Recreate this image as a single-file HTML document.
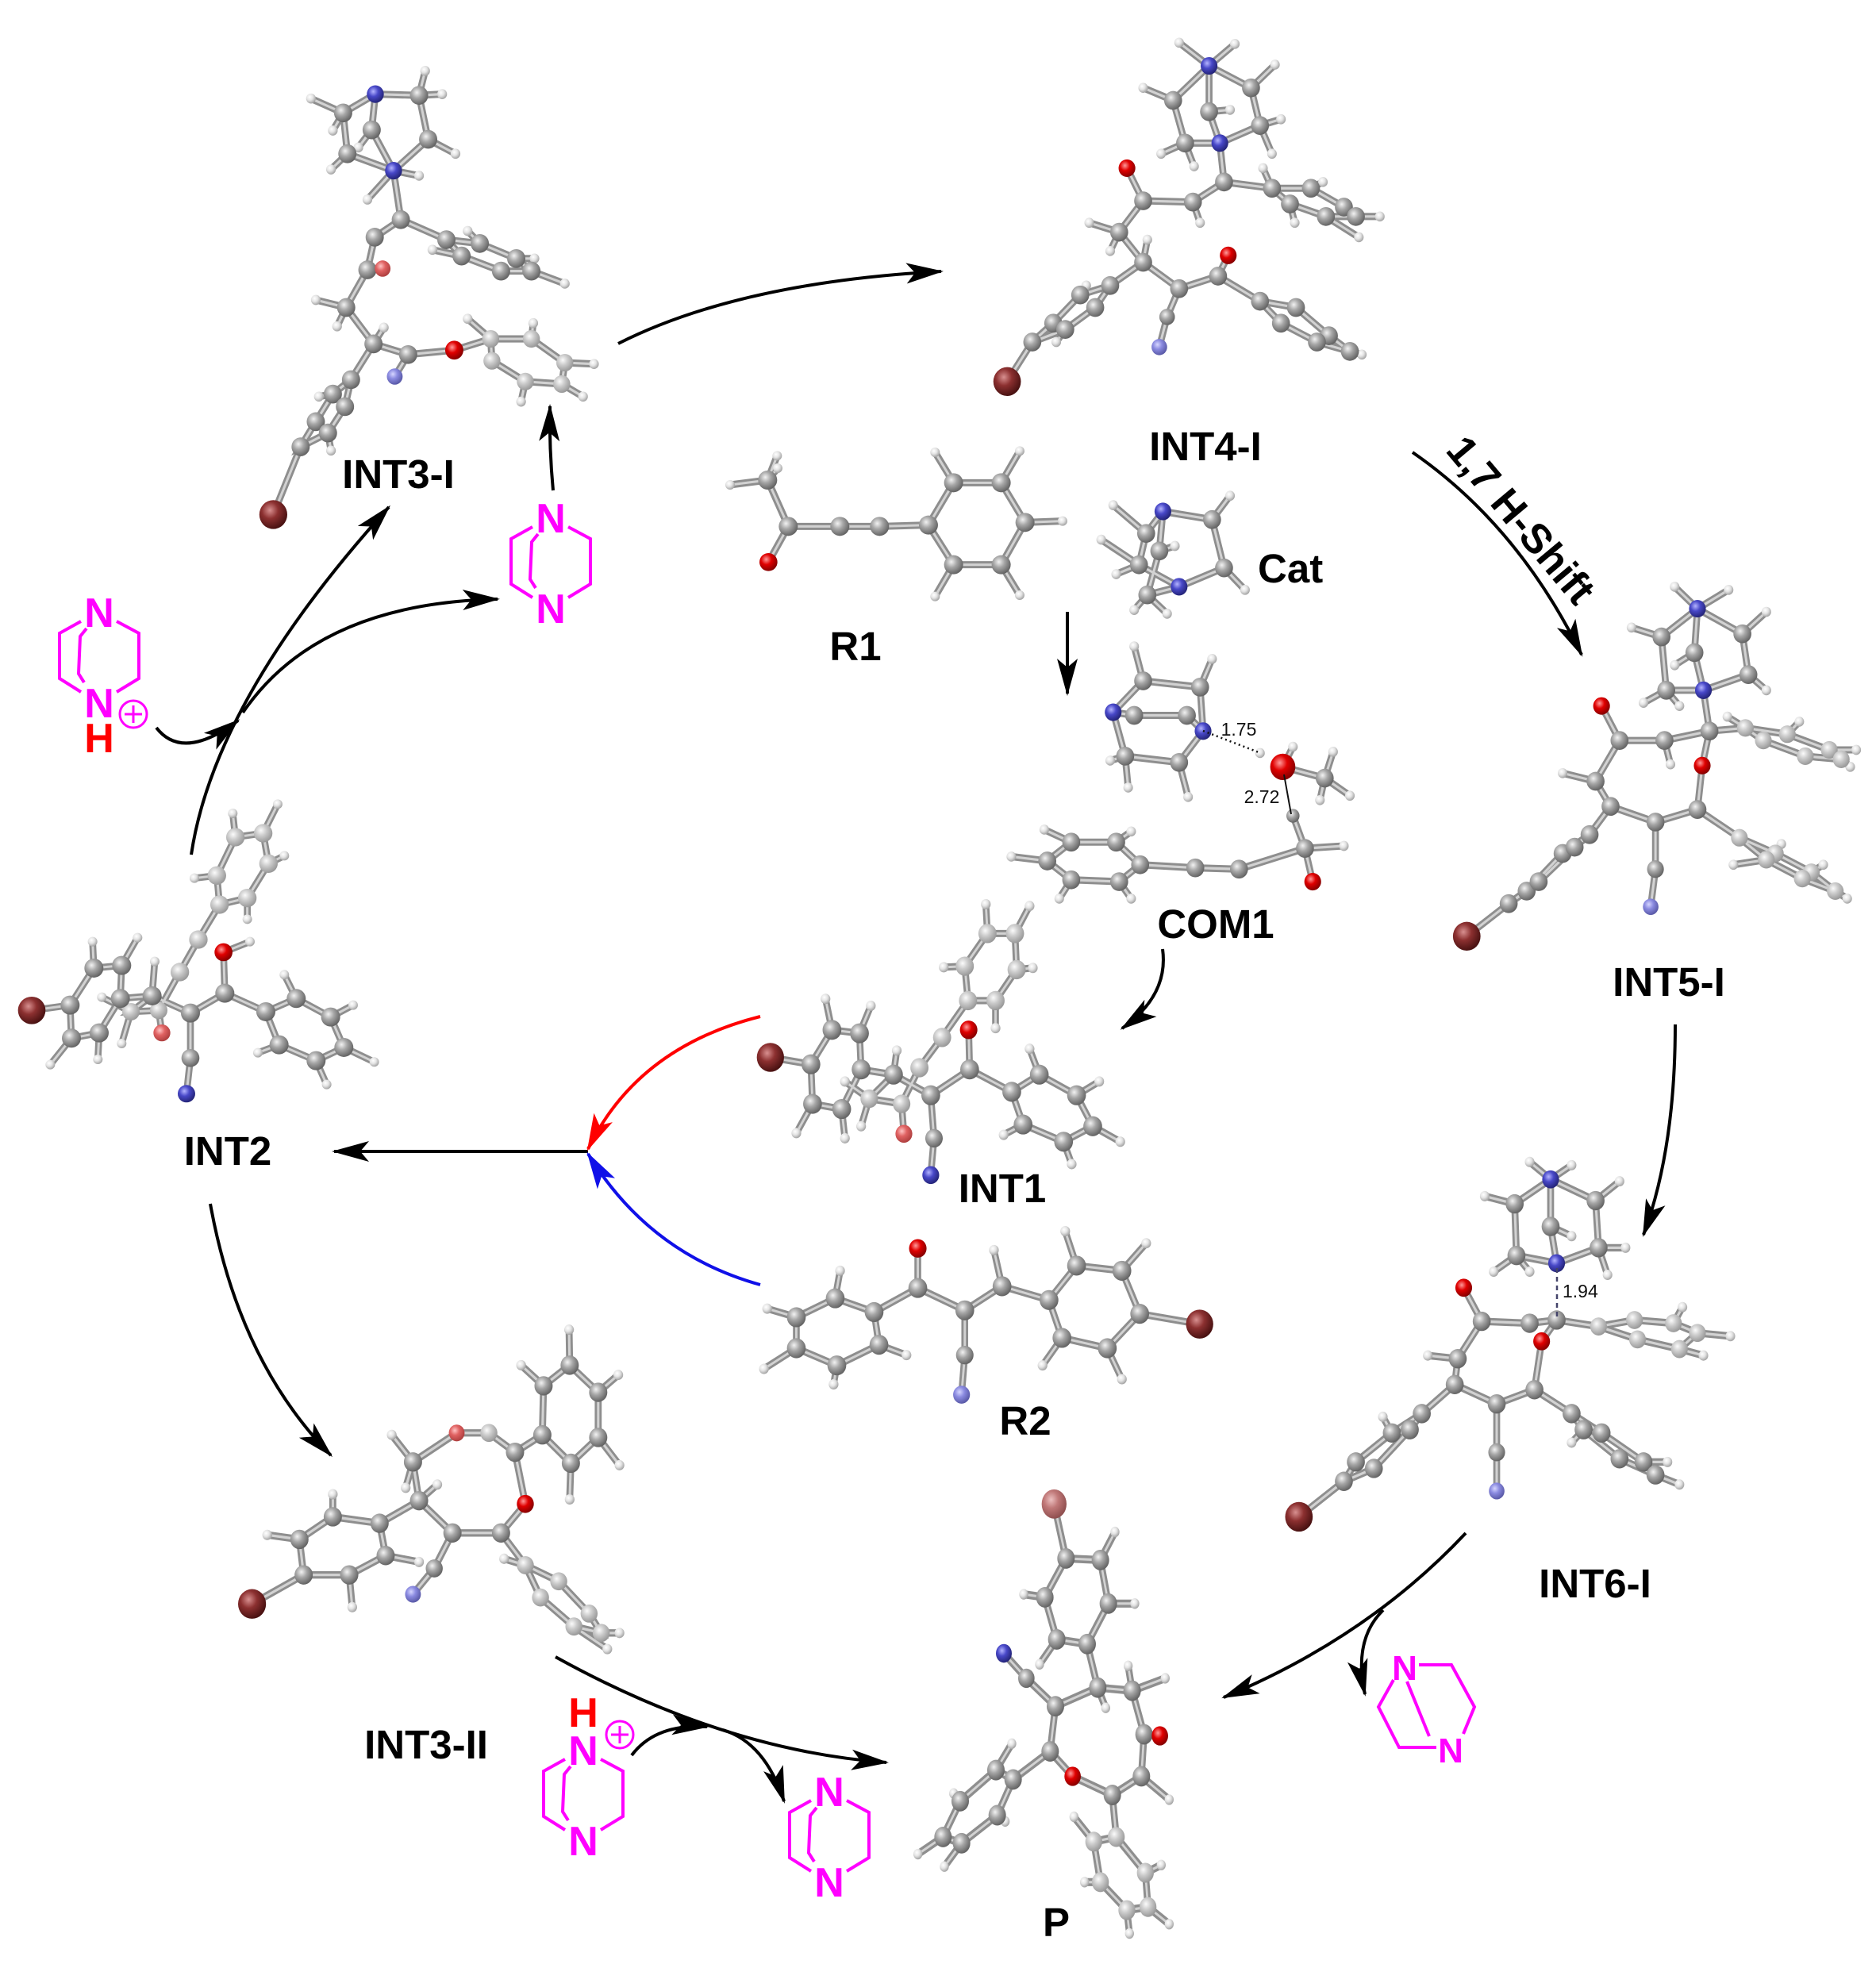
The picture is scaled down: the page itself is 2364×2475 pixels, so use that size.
<!DOCTYPE html>
<html><head><meta charset="utf-8">
<style>
html,body{margin:0;padding:0;background:#fff}
svg{display:block}
text{font-family:"Liberation Sans",Arial,sans-serif}
.lb{font-weight:bold;font-size:51px;fill:#000}
.dz{font-weight:bold;font-size:52px;fill:#f0f}
.hr{font-weight:bold;font-size:52px;fill:#f00}
.sm{font-size:23px;fill:#111}
</style></head><body>
<svg width="2364" height="2475" viewBox="0 0 2364 2475" xmlns="http://www.w3.org/2000/svg">
<defs>
<radialGradient id="gC" cx="0.38" cy="0.35" r="0.65"><stop offset="0" stop-color="#f2f2f2"/><stop offset="0.45" stop-color="#a6a6a6"/><stop offset="1" stop-color="#656565"/></radialGradient>
<radialGradient id="gL" cx="0.38" cy="0.35" r="0.65"><stop offset="0" stop-color="#fbfbfb"/><stop offset="0.45" stop-color="#cbcbcb"/><stop offset="1" stop-color="#9a9a9a"/></radialGradient>
<radialGradient id="gH" cx="0.38" cy="0.35" r="0.65"><stop offset="0" stop-color="#ffffff"/><stop offset="0.5" stop-color="#e4e4e4"/><stop offset="1" stop-color="#a5a5a5"/></radialGradient>
<radialGradient id="gO" cx="0.38" cy="0.35" r="0.65"><stop offset="0" stop-color="#ff9a9a"/><stop offset="0.45" stop-color="#e00000"/><stop offset="1" stop-color="#880000"/></radialGradient>
<radialGradient id="gOf" cx="0.38" cy="0.35" r="0.65"><stop offset="0" stop-color="#ffc4c4"/><stop offset="0.45" stop-color="#e06262"/><stop offset="1" stop-color="#b04040"/></radialGradient>
<radialGradient id="gN" cx="0.38" cy="0.35" r="0.65"><stop offset="0" stop-color="#b4b4ff"/><stop offset="0.45" stop-color="#4848c8"/><stop offset="1" stop-color="#25257a"/></radialGradient>
<radialGradient id="gNf" cx="0.38" cy="0.35" r="0.65"><stop offset="0" stop-color="#d6d6ff"/><stop offset="0.45" stop-color="#8a8ae0"/><stop offset="1" stop-color="#5a5aa8"/></radialGradient>
<radialGradient id="gBr" cx="0.38" cy="0.35" r="0.65"><stop offset="0" stop-color="#d89090"/><stop offset="0.45" stop-color="#8c3030"/><stop offset="1" stop-color="#4a1212"/></radialGradient>
<radialGradient id="gBrf" cx="0.38" cy="0.35" r="0.65"><stop offset="0" stop-color="#ecc0c0"/><stop offset="0.45" stop-color="#c07878"/><stop offset="1" stop-color="#905050"/></radialGradient>
<marker id="ak" markerUnits="userSpaceOnUse" viewBox="-50 -20 56 40" markerWidth="56" markerHeight="40" refX="0" refY="0" orient="auto"><path d="M3,0 L-44,-13 L-33,0 L-44,13 Z" fill="#000"/></marker>
<marker id="ar" markerUnits="userSpaceOnUse" viewBox="-50 -20 56 40" markerWidth="56" markerHeight="40" refX="0" refY="0" orient="auto"><path d="M3,0 L-44,-13 L-33,0 L-44,13 Z" fill="#f00"/></marker>
<marker id="ab" markerUnits="userSpaceOnUse" viewBox="-50 -20 56 40" markerWidth="56" markerHeight="40" refX="0" refY="0" orient="auto"><path d="M3,0 L-44,-13 L-33,0 L-44,13 Z" fill="#1010e8"/></marker>
<g id="dabco" fill="none" stroke="#f0f" stroke-width="4">
<path d="M-23,12 L-50,27 L-50,84 L-23,101 M22,12 L50,27 L50,84 L22,101 M-16,21 L-24,31 L-26,78 L-19,89"/>
</g>
</defs>
<rect width="2364" height="2475" fill="#fff"/>

<!-- ===== INT3-I ===== -->
<g transform="matrix(0.7653 0 0 0.7908 0 0)">
<g fill="none" stroke="#8e8e8e" stroke-width="11.5" stroke-linecap="round"><path id="b1" d="M618,150 L565,180 L572,245 L648,272 M618,150 L612,207 L648,272 M618,150 L690,152 L705,222 L648,272 M565,180 L512,157 M565,180 L548,208 M572,245 L545,270 M612,207 L590,235 M690,152 L728,150 M690,152 L700,113 M705,222 L750,245 M648,272 L605,318 M648,272 L690,280 M648,272 L660,350 L617,378 L605,430 L570,490 L615,548 L672,565 L748,558 L808,540 M605,430 L630,428 M570,490 L520,478 M570,490 L555,520 M615,548 L632,522 M672,565 L650,600 M808,540 L875,540 L930,578 L925,612 L865,608 L810,575 Z M875,540 L878,515 M930,578 L978,580 M925,612 L960,632 M865,608 L858,640 M808,540 L770,508 M660,350 L735,382 L790,388 L850,412 L875,432 L825,432 L760,408 L735,382 M760,408 L712,398 M790,388 L770,368 M875,432 L930,452 M850,412 L880,412 M615,548 L578,605 L548,628 L520,672 L495,712 L540,690 L568,648 L578,605 M540,690 L545,718 M548,628 L525,632 M495,712 L450,820"/></g>
<use href="#b1" fill="none" stroke="#d2d2d2" stroke-width="4" stroke-linecap="round"/>
<g fill="url(#gH)"><circle cx="512" cy="157" r="8"/><circle cx="548" cy="208" r="8"/><circle cx="545" cy="270" r="8"/><circle cx="590" cy="235" r="8"/><circle cx="728" cy="150" r="8"/><circle cx="700" cy="113" r="8"/><circle cx="750" cy="245" r="8"/><circle cx="605" cy="318" r="8"/><circle cx="690" cy="280" r="8"/><circle cx="520" cy="478" r="8"/><circle cx="555" cy="520" r="8"/><circle cx="632" cy="522" r="8"/><circle cx="878" cy="515" r="8"/><circle cx="978" cy="580" r="8"/><circle cx="960" cy="632" r="8"/><circle cx="858" cy="640" r="8"/><circle cx="770" cy="508" r="8"/><circle cx="712" cy="398" r="8"/><circle cx="770" cy="368" r="8"/><circle cx="930" cy="452" r="8"/><circle cx="880" cy="412" r="8"/><circle cx="545" cy="718" r="8"/><circle cx="525" cy="632" r="8"/></g>
<g fill="url(#gC)"><circle cx="565" cy="180" r="15"/><circle cx="612" cy="207" r="15"/><circle cx="690" cy="152" r="15"/><circle cx="572" cy="245" r="15"/><circle cx="705" cy="222" r="15"/><circle cx="660" cy="350" r="15"/><circle cx="617" cy="378" r="15"/><circle cx="605" cy="430" r="15"/><circle cx="570" cy="490" r="15"/><circle cx="615" cy="548" r="15"/><circle cx="672" cy="565" r="15"/><circle cx="735" cy="382" r="15"/><circle cx="790" cy="388" r="15"/><circle cx="850" cy="412" r="15"/><circle cx="875" cy="432" r="15"/><circle cx="825" cy="432" r="15"/><circle cx="760" cy="408" r="15"/><circle cx="578" cy="605" r="15"/><circle cx="548" cy="628" r="15"/><circle cx="520" cy="672" r="15"/><circle cx="495" cy="712" r="15"/><circle cx="540" cy="690" r="15"/><circle cx="568" cy="648" r="15"/></g>
<g fill="url(#gL)"><circle cx="808" cy="540" r="14"/><circle cx="875" cy="540" r="14"/><circle cx="930" cy="578" r="14"/><circle cx="925" cy="612" r="14"/><circle cx="865" cy="608" r="14"/><circle cx="810" cy="575" r="14"/></g>
<circle cx="618" cy="150" r="14" fill="url(#gN)"/><circle cx="648" cy="272" r="14" fill="url(#gN)"/>
<circle cx="748" cy="558" r="15" fill="url(#gO)"/><circle cx="630" cy="428" r="13" fill="url(#gOf)"/>
<circle cx="650" cy="600" r="13" fill="url(#gNf)"/>
<circle cx="450" cy="820" r="23" fill="url(#gBr)"/>
</g>

<!-- ===== INT4-I ===== -->
<g transform="matrix(0.7551 0 0 0.7908 1180 0)">
<g fill="none" stroke="#8e8e8e" stroke-width="11.5" stroke-linecap="round"><path id="b2" d="M455,105 L395,160 L415,228 L473,228 M455,105 L525,140 L540,200 L473,228 M455,105 L455,178 L473,228 M455,105 L405,68 M455,105 L498,70 M395,160 L345,140 M525,140 L565,103 M455,178 L490,175 M415,228 L375,245 M415,228 L430,265 M540,200 L575,190 M540,200 L560,245 M473,228 L480,290 L428,322 L345,320 L318,268 M428,322 L440,355 M345,320 L305,370 L345,418 L405,460 L470,440 L487,407 M305,370 L255,355 M305,370 L290,400 M345,418 L352,382 M405,460 L385,505 L372,553 M470,440 L540,480 L600,490 L655,535 L690,560 L635,545 L575,515 L540,480 M690,560 L710,565 M480,290 L560,300 L625,300 L680,330 L700,345 L650,345 L590,325 L560,300 M560,300 L545,268 M625,300 L645,290 M700,345 L740,345 M650,345 L705,378 M590,325 L598,355 M345,418 L290,455 L240,470 L195,515 L160,545 L215,525 L265,490 L290,455 M160,545 L118,608 M240,470 L250,455 M215,525 L200,545"/></g>
<use href="#b2" fill="none" stroke="#d2d2d2" stroke-width="4" stroke-linecap="round"/>
<g fill="url(#gH)"><circle cx="405" cy="68" r="8"/><circle cx="498" cy="70" r="8"/><circle cx="345" cy="140" r="8"/><circle cx="565" cy="103" r="8"/><circle cx="490" cy="175" r="8"/><circle cx="375" cy="245" r="8"/><circle cx="430" cy="265" r="8"/><circle cx="575" cy="190" r="8"/><circle cx="560" cy="245" r="8"/><circle cx="440" cy="355" r="8"/><circle cx="255" cy="355" r="8"/><circle cx="290" cy="400" r="8"/><circle cx="352" cy="382" r="8"/><circle cx="710" cy="565" r="8"/><circle cx="545" cy="268" r="8"/><circle cx="645" cy="290" r="8"/><circle cx="740" cy="345" r="8"/><circle cx="705" cy="378" r="8"/><circle cx="598" cy="355" r="8"/><circle cx="250" cy="455" r="8"/><circle cx="200" cy="545" r="8"/></g>
<g fill="url(#gC)"><circle cx="395" cy="160" r="15"/><circle cx="525" cy="140" r="15"/><circle cx="455" cy="178" r="15"/><circle cx="415" cy="228" r="15"/><circle cx="540" cy="200" r="15"/><circle cx="480" cy="290" r="15"/><circle cx="428" cy="322" r="15"/><circle cx="345" cy="320" r="15"/><circle cx="305" cy="370" r="15"/><circle cx="345" cy="418" r="15"/><circle cx="405" cy="460" r="15"/><circle cx="470" cy="440" r="15"/><circle cx="385" cy="505" r="13"/><circle cx="540" cy="480" r="15"/><circle cx="600" cy="490" r="15"/><circle cx="655" cy="535" r="15"/><circle cx="690" cy="560" r="15"/><circle cx="635" cy="545" r="15"/><circle cx="575" cy="515" r="15"/><circle cx="560" cy="300" r="15"/><circle cx="625" cy="300" r="15"/><circle cx="680" cy="330" r="15"/><circle cx="700" cy="345" r="15"/><circle cx="650" cy="345" r="15"/><circle cx="590" cy="325" r="15"/><circle cx="290" cy="455" r="15"/><circle cx="240" cy="470" r="15"/><circle cx="195" cy="515" r="15"/><circle cx="160" cy="545" r="15"/><circle cx="215" cy="525" r="15"/><circle cx="265" cy="490" r="15"/></g>
<circle cx="455" cy="105" r="14" fill="url(#gN)"/><circle cx="473" cy="228" r="14" fill="url(#gN)"/>
<circle cx="318" cy="268" r="14" fill="url(#gO)"/><circle cx="487" cy="407" r="14" fill="url(#gO)"/>
<circle cx="372" cy="553" r="13" fill="url(#gNf)"/>
<circle cx="118" cy="608" r="23" fill="url(#gBr)"/>
</g>

<!-- ===== R1 ===== -->
<g transform="matrix(0.3333 0 0 0.3333 880 540)">
<g fill="none" stroke="#8e8e8e" stroke-width="27" stroke-linecap="round"><path id="b3" d="M262,195 L340,370 L535,370 L685,370 L870,365 M340,370 L265,505 M262,195 L120,213 M262,195 L298,103 M262,195 L300,150 M870,365 L965,205 L1145,205 L1235,355 L1145,515 L965,515 Z M965,205 L895,90 M1145,205 L1215,85 M1235,355 L1377,350 M1145,515 L1215,630 M965,515 L895,635"/></g>
<use href="#b3" fill="none" stroke="#d2d2d2" stroke-width="9" stroke-linecap="round"/>
<g fill="url(#gH)"><circle cx="120" cy="213" r="18"/><circle cx="298" cy="103" r="18"/><circle cx="300" cy="150" r="18"/><circle cx="895" cy="90" r="18"/><circle cx="1215" cy="85" r="18"/><circle cx="1377" cy="350" r="18"/><circle cx="1215" cy="630" r="18"/><circle cx="895" cy="635" r="18"/></g>
<g fill="url(#gC)"><circle cx="262" cy="195" r="36"/><circle cx="340" cy="370" r="36"/><circle cx="535" cy="370" r="36"/><circle cx="685" cy="370" r="36"/><circle cx="870" cy="365" r="36"/><circle cx="965" cy="205" r="36"/><circle cx="1145" cy="205" r="36"/><circle cx="1235" cy="355" r="36"/><circle cx="1145" cy="515" r="36"/><circle cx="965" cy="515" r="36"/></g>
<circle cx="265" cy="505" r="34" fill="url(#gO)"/>
</g>

<!-- ===== Cat ===== -->
<g transform="matrix(0.7551 0 0 0.7908 1180 0)">
<g fill="none" stroke="#8e8e8e" stroke-width="11.5" stroke-linecap="round"><path id="b4" d="M378,815 L460,828 L480,905 L405,935 M378,815 L350,850 L338,900 L405,935 M378,815 L372,878 L352,948 L405,935 M460,828 L490,790 M480,905 L515,940 M350,850 L295,805 M338,900 L275,860 M338,900 L300,915 M352,948 L330,972 M352,948 L385,978 M372,878 L398,870"/></g>
<use href="#b4" fill="none" stroke="#d2d2d2" stroke-width="4" stroke-linecap="round"/>
<g fill="url(#gH)"><circle cx="490" cy="790" r="8"/><circle cx="515" cy="940" r="8"/><circle cx="295" cy="805" r="8"/><circle cx="275" cy="860" r="8"/><circle cx="300" cy="915" r="8"/><circle cx="330" cy="972" r="8"/><circle cx="385" cy="978" r="8"/><circle cx="398" cy="870" r="8"/></g>
<g fill="url(#gC)"><circle cx="460" cy="828" r="15"/><circle cx="480" cy="905" r="15"/><circle cx="350" cy="850" r="15"/><circle cx="338" cy="900" r="15"/><circle cx="372" cy="878" r="15"/><circle cx="352" cy="948" r="15"/></g>
<circle cx="378" cy="815" r="14" fill="url(#gN)"/><circle cx="405" cy="935" r="14" fill="url(#gN)"/>
</g>

<!-- ===== COM1 ===== -->
<g transform="matrix(0.7551 0 0 0.7908 1180 0)">
<g fill="none" stroke="#8e8e8e" stroke-width="11.5" stroke-linecap="round"><path id="b5" d="M295,1135 L345,1085 L440,1095 L445,1165 M295,1135 L330,1140 L418,1140 L445,1165 M295,1135 L315,1205 L405,1215 L445,1165 M345,1085 L330,1030 M440,1095 L460,1050 M315,1205 L290,1212 M315,1205 L320,1255 M405,1215 L420,1270 M578,1222 L648,1240 M578,1222 L595,1190 M648,1240 L662,1198 M648,1240 L690,1268 M648,1240 L640,1275 M595,1300 L615,1352 L628,1405 M615,1352 L680,1348 M615,1352 L505,1385 L432,1383 L340,1378 M340,1378 L300,1342 L225,1342 L185,1372 L225,1402 L305,1405 Z M300,1342 L325,1325 M225,1342 L180,1322 M185,1372 L125,1365 M225,1402 L205,1432 M305,1405 L325,1432"/></g>
<use href="#b5" fill="none" stroke="#d2d2d2" stroke-width="4" stroke-linecap="round"/>
<g fill="url(#gH)"><circle cx="330" cy="1030" r="8"/><circle cx="460" cy="1050" r="8"/><circle cx="290" cy="1212" r="8"/><circle cx="320" cy="1255" r="8"/><circle cx="420" cy="1270" r="8"/><circle cx="540" cy="1200" r="8"/><circle cx="595" cy="1190" r="8"/><circle cx="662" cy="1198" r="8"/><circle cx="690" cy="1268" r="8"/><circle cx="640" cy="1275" r="8"/><circle cx="680" cy="1348" r="8"/><circle cx="325" cy="1325" r="8"/><circle cx="180" cy="1322" r="8"/><circle cx="125" cy="1365" r="8"/><circle cx="205" cy="1432" r="8"/><circle cx="325" cy="1432" r="8"/></g>
<g fill="url(#gC)"><circle cx="345" cy="1085" r="15"/><circle cx="440" cy="1095" r="15"/><circle cx="330" cy="1140" r="15"/><circle cx="418" cy="1140" r="15"/><circle cx="315" cy="1205" r="15"/><circle cx="405" cy="1215" r="15"/><circle cx="648" cy="1240" r="15"/><circle cx="595" cy="1300" r="11"/><circle cx="615" cy="1352" r="15"/><circle cx="505" cy="1385" r="15"/><circle cx="432" cy="1383" r="15"/><circle cx="340" cy="1378" r="15"/><circle cx="300" cy="1342" r="15"/><circle cx="225" cy="1342" r="15"/><circle cx="185" cy="1372" r="15"/><circle cx="225" cy="1402" r="15"/><circle cx="305" cy="1405" r="15"/></g>
<circle cx="295" cy="1135" r="14" fill="url(#gN)"/><circle cx="445" cy="1165" r="14" fill="url(#gN)"/>
<circle cx="578" cy="1222" r="21" fill="url(#gO)"/><circle cx="628" cy="1405" r="14" fill="url(#gO)"/>
</g>
<path d="M1516,921 L1586,948" stroke="#111" stroke-width="2.5" stroke-dasharray="2,4" fill="none"/>
<path d="M1618,976 L1627,1026" stroke="#111" stroke-width="2" fill="none"/>
<text class="sm" x="1561" y="927" text-anchor="middle">1.75</text>
<text class="sm" x="1590" y="1012" text-anchor="middle">2.72</text>

<!-- ===== INT5-I ===== -->
<g transform="matrix(0.7551 0 0 0.7908 1180 0)">
<g fill="none" stroke="#8e8e8e" stroke-width="11.5" stroke-linecap="round"><path id="b6" d="M1270,970 L1210,1015 L1218,1100 L1280,1100 M1270,970 L1345,1010 L1355,1075 L1280,1100 M1270,970 L1265,1040 L1280,1100 M1270,970 L1232,935 M1270,970 L1322,940 M1210,1015 L1160,1000 M1345,1010 L1385,975 M1218,1100 L1180,1120 M1218,1100 L1240,1125 M1355,1075 L1385,1100 M1265,1040 L1232,1060 M1280,1100 L1290,1165 L1278,1220 L1270,1290 L1200,1310 L1125,1285 L1100,1245 L1140,1180 L1110,1125 M1140,1180 L1215,1180 L1290,1165 M1215,1180 L1225,1218 M1100,1245 L1045,1232 M1200,1310 L1200,1385 L1192,1445 M1270,1290 L1340,1335 L1400,1360 L1460,1390 L1500,1420 L1445,1400 L1385,1370 L1340,1335 M1500,1420 L1520,1432 M1460,1390 L1480,1378 M1385,1370 L1330,1378 M1400,1360 L1410,1345 M1290,1165 L1350,1160 L1420,1170 L1490,1195 L1510,1210 L1450,1205 L1380,1180 L1350,1160 M1490,1195 L1535,1195 M1510,1210 L1525,1222 M1350,1160 L1320,1142 M1420,1170 L1440,1150 M1125,1285 L1090,1330 L1045,1360 L985,1420 L955,1440 L1005,1405 L1065,1350 L1090,1330 M955,1440 L885,1492"/></g>
<use href="#b6" fill="none" stroke="#d2d2d2" stroke-width="4" stroke-linecap="round"/>
<g fill="url(#gH)"><circle cx="1232" cy="935" r="8"/><circle cx="1322" cy="940" r="8"/><circle cx="1160" cy="1000" r="8"/><circle cx="1385" cy="975" r="8"/><circle cx="1180" cy="1120" r="8"/><circle cx="1240" cy="1125" r="8"/><circle cx="1385" cy="1100" r="8"/><circle cx="1232" cy="1060" r="8"/><circle cx="1225" cy="1218" r="8"/><circle cx="1045" cy="1232" r="8"/><circle cx="1520" cy="1432" r="8"/><circle cx="1480" cy="1378" r="8"/><circle cx="1330" cy="1378" r="8"/><circle cx="1410" cy="1345" r="8"/><circle cx="1535" cy="1195" r="8"/><circle cx="1525" cy="1222" r="8"/><circle cx="1320" cy="1142" r="8"/><circle cx="1440" cy="1150" r="8"/></g>
<g fill="url(#gC)"><circle cx="1210" cy="1015" r="15"/><circle cx="1345" cy="1010" r="15"/><circle cx="1265" cy="1040" r="15"/><circle cx="1218" cy="1100" r="15"/><circle cx="1355" cy="1075" r="15"/><circle cx="1290" cy="1165" r="15"/><circle cx="1215" cy="1180" r="15"/><circle cx="1140" cy="1180" r="15"/><circle cx="1100" cy="1245" r="15"/><circle cx="1125" cy="1285" r="15"/><circle cx="1200" cy="1310" r="15"/><circle cx="1270" cy="1290" r="15"/><circle cx="1200" cy="1385" r="14"/><circle cx="1090" cy="1330" r="15"/><circle cx="1045" cy="1360" r="15"/><circle cx="985" cy="1420" r="15"/><circle cx="955" cy="1440" r="15"/><circle cx="1005" cy="1405" r="15"/><circle cx="1065" cy="1350" r="15"/></g>
<g fill="url(#gL)"><circle cx="1340" cy="1335" r="14"/><circle cx="1400" cy="1360" r="14"/><circle cx="1460" cy="1390" r="14"/><circle cx="1500" cy="1420" r="14"/><circle cx="1445" cy="1400" r="14"/><circle cx="1385" cy="1370" r="14"/><circle cx="1350" cy="1160" r="14"/><circle cx="1420" cy="1170" r="14"/><circle cx="1490" cy="1195" r="14"/><circle cx="1510" cy="1210" r="14"/><circle cx="1450" cy="1205" r="14"/><circle cx="1380" cy="1180" r="14"/></g>
<circle cx="1270" cy="970" r="14" fill="url(#gN)"/><circle cx="1280" cy="1100" r="14" fill="url(#gN)"/><circle cx="1192" cy="1445" r="13" fill="url(#gNf)"/>
<circle cx="1278" cy="1220" r="14" fill="url(#gO)"/><circle cx="1110" cy="1125" r="14" fill="url(#gO)"/>
<circle cx="885" cy="1492" r="23" fill="url(#gBr)"/>
</g>

<!-- ===== INT2 ===== -->
<g transform="matrix(0.3333 0 0 0.3333 0 980)">
<g fill="none" stroke="#8e8e8e" stroke-width="26" stroke-linecap="round"><path id="b7" d="M830,480 L820,370 L890,225 L995,210 L1015,325 L935,455 L830,480 M820,370 L735,380 M890,225 L880,135 M995,210 L1050,100 M1015,325 L1075,295 M935,455 L935,535 M830,480 L750,612 L680,735 L600,880 L612,965 M600,880 L495,885 L575,825 M495,885 L385,830 M495,885 L460,1005 M575,825 L585,695 M575,825 L455,835 M575,825 L720,890 L850,815 L845,660 L945,620 M850,815 L1005,885 M720,890 L720,1060 L705,1195 M1005,885 L1120,835 L1250,905 L1300,1020 L1195,1070 L1055,1010 Z M1120,835 L1075,745 M1250,905 L1335,860 M1300,1020 L1415,1075 M1195,1070 L1235,1160 M1055,1010 L975,1040 M455,835 L460,710 L355,720 L265,860 L270,985 L375,965 Z M265,860 L120,880 M355,720 L350,620 M460,710 L520,605 M375,965 L370,1065 M270,985 L190,1085"/></g>
<use href="#b7" fill="none" stroke="#d2d2d2" stroke-width="9" stroke-linecap="round"/>
<g fill="url(#gH)"><circle cx="735" cy="380" r="18"/><circle cx="880" cy="135" r="18"/><circle cx="1050" cy="100" r="18"/><circle cx="1075" cy="295" r="18"/><circle cx="935" cy="535" r="18"/><circle cx="385" cy="830" r="18"/><circle cx="460" cy="1005" r="18"/><circle cx="585" cy="695" r="18"/><circle cx="945" cy="620" r="18"/><circle cx="1075" cy="745" r="18"/><circle cx="1335" cy="860" r="18"/><circle cx="1415" cy="1075" r="18"/><circle cx="1235" cy="1160" r="18"/><circle cx="975" cy="1040" r="18"/><circle cx="350" cy="620" r="18"/><circle cx="520" cy="605" r="18"/><circle cx="370" cy="1065" r="18"/><circle cx="190" cy="1085" r="18"/></g>
<g fill="url(#gL)"><circle cx="890" cy="225" r="35"/><circle cx="995" cy="210" r="35"/><circle cx="1015" cy="325" r="35"/><circle cx="935" cy="455" r="35"/><circle cx="830" cy="480" r="35"/><circle cx="820" cy="370" r="35"/><circle cx="750" cy="612" r="35"/><circle cx="680" cy="735" r="35"/><circle cx="600" cy="880" r="33"/><circle cx="495" cy="885" r="33"/></g>
<g fill="url(#gC)"><circle cx="575" cy="825" r="36"/><circle cx="720" cy="890" r="36"/><circle cx="850" cy="815" r="36"/><circle cx="720" cy="1060" r="34"/><circle cx="1005" cy="885" r="36"/><circle cx="1120" cy="835" r="36"/><circle cx="1250" cy="905" r="36"/><circle cx="1300" cy="1020" r="36"/><circle cx="1195" cy="1070" r="36"/><circle cx="1055" cy="1010" r="36"/><circle cx="455" cy="835" r="36"/><circle cx="460" cy="710" r="36"/><circle cx="355" cy="720" r="36"/><circle cx="265" cy="860" r="36"/><circle cx="270" cy="985" r="36"/><circle cx="375" cy="965" r="36"/></g>
<circle cx="845" cy="660" r="34" fill="url(#gO)"/><circle cx="612" cy="965" r="32" fill="url(#gOf)"/>
<circle cx="705" cy="1195" r="33" fill="url(#gN)"/>
<circle cx="120" cy="880" r="52" fill="url(#gBr)"/>
</g>

<!-- ===== INT1 ===== -->
<g transform="matrix(0.4082 0 0 0.4337 930 1120)">
<g fill="none" stroke="#8e8e8e" stroke-width="21" stroke-linecap="round"><path id="b8" d="M770,130 L855,130 L860,235 L795,325 L710,325 L700,225 Z M770,130 L765,45 M855,130 L900,50 M860,235 L910,230 M795,325 L795,405 M700,225 L635,228 M710,325 L630,432 L560,520 L505,625 L512,712 M505,625 L405,610 L480,540 M405,610 L330,560 M405,610 L380,690 M480,540 L490,470 M480,540 L380,525 M480,540 L595,600 L715,525 L712,410 M715,525 L845,590 M595,600 L605,725 L595,832 M845,590 L930,540 L1045,600 L1095,690 L1005,735 L880,685 Z M930,540 L900,465 M1045,600 L1115,560 M1095,690 L1180,735 M1005,735 L1030,800 M880,685 L820,715 M380,525 L375,420 L290,410 L225,510 L230,625 L320,640 Z M225,510 L100,490 M290,410 L270,320 M375,420 L410,340 M230,625 L180,710 M320,640 L330,725"/></g>
<use href="#b8" fill="none" stroke="#d2d2d2" stroke-width="7" stroke-linecap="round"/>
<g fill="url(#gH)"><circle cx="765" cy="45" r="15"/><circle cx="900" cy="50" r="15"/><circle cx="910" cy="230" r="15"/><circle cx="795" cy="405" r="15"/><circle cx="635" cy="228" r="15"/><circle cx="330" cy="560" r="15"/><circle cx="380" cy="690" r="15"/><circle cx="490" cy="470" r="15"/><circle cx="900" cy="465" r="15"/><circle cx="1115" cy="560" r="15"/><circle cx="1180" cy="735" r="15"/><circle cx="1030" cy="800" r="15"/><circle cx="820" cy="715" r="15"/><circle cx="270" cy="320" r="15"/><circle cx="410" cy="340" r="15"/><circle cx="180" cy="710" r="15"/><circle cx="330" cy="725" r="15"/></g>
<g fill="url(#gL)"><circle cx="770" cy="130" r="28"/><circle cx="855" cy="130" r="28"/><circle cx="860" cy="235" r="28"/><circle cx="795" cy="325" r="28"/><circle cx="710" cy="325" r="28"/><circle cx="700" cy="225" r="28"/><circle cx="630" cy="432" r="28"/><circle cx="560" cy="520" r="28"/><circle cx="505" cy="625" r="27"/><circle cx="405" cy="610" r="27"/></g>
<g fill="url(#gC)"><circle cx="480" cy="540" r="29"/><circle cx="595" cy="600" r="29"/><circle cx="715" cy="525" r="29"/><circle cx="605" cy="725" r="27"/><circle cx="845" cy="590" r="29"/><circle cx="930" cy="540" r="29"/><circle cx="1045" cy="600" r="29"/><circle cx="1095" cy="690" r="29"/><circle cx="1005" cy="735" r="29"/><circle cx="880" cy="685" r="29"/><circle cx="380" cy="525" r="29"/><circle cx="375" cy="420" r="29"/><circle cx="290" cy="410" r="29"/><circle cx="225" cy="510" r="29"/><circle cx="230" cy="625" r="29"/><circle cx="320" cy="640" r="29"/></g>
<circle cx="712" cy="410" r="27" fill="url(#gO)"/><circle cx="512" cy="712" r="26" fill="url(#gOf)"/>
<circle cx="595" cy="832" r="26" fill="url(#gN)"/>
<circle cx="100" cy="490" r="42" fill="url(#gBr)"/>
</g>

<!-- ===== R2 ===== -->
<g transform="matrix(0.4082 0 0 0.4337 930 1120)">
<g fill="none" stroke="#8e8e8e" stroke-width="21" stroke-linecap="round"><path id="b9" d="M300,1190 L420,1230 L435,1325 L305,1385 L180,1335 L180,1245 Z M300,1190 L315,1110 M180,1245 L90,1220 M180,1335 L80,1395 M305,1385 L295,1440 M435,1325 L520,1355 M420,1230 L555,1160 L555,1045 M555,1160 L700,1225 L815,1155 L790,1050 M815,1155 L960,1195 M700,1225 L700,1355 L690,1470 M960,1195 L1045,1095 L1185,1110 L1240,1235 L1140,1335 L1000,1305 Z M1045,1095 L1010,995 M1185,1110 L1260,1030 M1140,1335 L1185,1425 M1000,1305 L940,1385 M1240,1235 L1425,1265"/></g>
<use href="#b9" fill="none" stroke="#d2d2d2" stroke-width="7" stroke-linecap="round"/>
<g fill="url(#gH)"><circle cx="315" cy="1110" r="15"/><circle cx="90" cy="1220" r="15"/><circle cx="80" cy="1395" r="15"/><circle cx="295" cy="1440" r="15"/><circle cx="520" cy="1355" r="15"/><circle cx="790" cy="1050" r="15"/><circle cx="1010" cy="995" r="15"/><circle cx="1260" cy="1030" r="15"/><circle cx="1185" cy="1425" r="15"/><circle cx="940" cy="1385" r="15"/></g>
<g fill="url(#gC)"><circle cx="300" cy="1190" r="29"/><circle cx="420" cy="1230" r="29"/><circle cx="435" cy="1325" r="29"/><circle cx="305" cy="1385" r="29"/><circle cx="180" cy="1335" r="29"/><circle cx="180" cy="1245" r="29"/><circle cx="555" cy="1160" r="29"/><circle cx="700" cy="1225" r="29"/><circle cx="815" cy="1155" r="29"/><circle cx="700" cy="1355" r="27"/><circle cx="960" cy="1195" r="29"/><circle cx="1045" cy="1095" r="29"/><circle cx="1185" cy="1110" r="29"/><circle cx="1240" cy="1235" r="29"/><circle cx="1140" cy="1335" r="29"/><circle cx="1000" cy="1305" r="29"/></g>
<circle cx="555" cy="1045" r="27" fill="url(#gO)"/>
<circle cx="690" cy="1470" r="26" fill="url(#gNf)"/>
<circle cx="1425" cy="1265" r="42" fill="url(#gBr)"/>
</g>

<!-- ===== INT3-II ===== -->
<g transform="matrix(0.7653 0 0 0.8131 0 1200)">
<g fill="none" stroke="#8e8e8e" stroke-width="11.5" stroke-linecap="round"><path id="b10" d="M895,672 L938,640 L985,682 L985,752 L940,792 L893,748 Z M895,672 L858,640 M938,640 L937,585 M985,682 L1018,655 M985,752 L1020,795 M940,792 L938,848 M893,748 L848,775 L805,745 L752,745 L680,790 L690,850 L625,885 M848,775 L865,855 L825,900 L745,900 L690,850 M745,900 L715,955 L680,995 M680,790 L645,748 M680,790 L668,830 M690,850 L720,825 M625,885 L548,875 L493,910 L500,965 L575,965 L635,935 Z M548,875 L548,840 M493,910 L440,903 M575,965 L580,1015 M635,935 L690,945 M500,965 L415,1010 M825,900 L865,950 L920,975 L970,1025 L990,1055 L945,1045 L890,1000 L865,950 M865,950 L830,940 M990,1055 L1020,1055 M945,1045 L1000,1080"/></g>
<use href="#b10" fill="none" stroke="#d2d2d2" stroke-width="4" stroke-linecap="round"/>
<g fill="url(#gH)"><circle cx="858" cy="640" r="8"/><circle cx="937" cy="585" r="8"/><circle cx="1018" cy="655" r="8"/><circle cx="1020" cy="795" r="8"/><circle cx="938" cy="848" r="8"/><circle cx="645" cy="748" r="8"/><circle cx="668" cy="830" r="8"/><circle cx="720" cy="825" r="8"/><circle cx="548" cy="840" r="8"/><circle cx="440" cy="903" r="8"/><circle cx="580" cy="1015" r="8"/><circle cx="690" cy="945" r="8"/><circle cx="830" cy="940" r="8"/><circle cx="1020" cy="1055" r="8"/><circle cx="1000" cy="1080" r="8"/></g>
<g fill="url(#gC)"><circle cx="895" cy="672" r="15"/><circle cx="938" cy="640" r="15"/><circle cx="985" cy="682" r="15"/><circle cx="985" cy="752" r="15"/><circle cx="940" cy="792" r="15"/><circle cx="893" cy="748" r="15"/><circle cx="848" cy="775" r="15"/><circle cx="680" cy="790" r="15"/><circle cx="690" cy="850" r="15"/><circle cx="745" cy="900" r="15"/><circle cx="825" cy="900" r="15"/><circle cx="715" cy="955" r="14"/><circle cx="625" cy="885" r="15"/><circle cx="548" cy="875" r="15"/><circle cx="493" cy="910" r="15"/><circle cx="500" cy="965" r="15"/><circle cx="575" cy="965" r="15"/><circle cx="635" cy="935" r="15"/></g>
<g fill="url(#gL)"><circle cx="805" cy="745" r="14"/><circle cx="865" cy="950" r="14"/><circle cx="920" cy="975" r="14"/><circle cx="970" cy="1025" r="14"/><circle cx="990" cy="1055" r="14"/><circle cx="945" cy="1045" r="14"/><circle cx="890" cy="1000" r="14"/></g>
<circle cx="865" cy="855" r="14" fill="url(#gO)"/><circle cx="752" cy="745" r="13" fill="url(#gOf)"/>
<circle cx="680" cy="995" r="13" fill="url(#gNf)"/>
<circle cx="415" cy="1010" r="23" fill="url(#gBr)"/>
</g>

<!-- ===== INT6-I ===== -->
<g transform="matrix(0.7551 0 0 0.8131 1180 1200)">
<g fill="none" stroke="#8e8e8e" stroke-width="11.5" stroke-linecap="round"><path id="b11" d="M1025,352 L965,390 L968,470 L1035,482 M1025,352 L1100,385 L1105,458 L1035,482 M1025,352 L1025,425 L1035,482 M1025,352 L990,325 M1025,352 L1060,330 M965,390 L915,378 M1100,385 L1140,355 M968,470 L930,495 M968,470 L990,495 M1105,458 L1150,458 M1105,458 L1120,500 M1025,425 L1060,440 M1035,570 L1010,603 L998,678 L935,700 L865,670 L870,630 L910,572 L880,520 M910,572 L990,575 L1035,570 M870,630 L820,625 M935,700 L935,775 L935,835 M1035,570 L1105,580 L1165,570 L1230,575 L1270,590 L1240,615 L1170,600 L1105,580 M1270,590 L1325,595 M1240,615 L1280,625 M1230,575 L1245,550 M998,678 L1060,715 L1110,745 L1180,790 L1200,810 L1140,785 L1080,740 L1060,715 M1200,810 L1240,825 M1180,790 L1220,790 M1080,740 L1060,760 M865,670 L810,715 L760,745 L700,790 L680,820 L730,800 L790,740 L810,715 M680,820 L605,875 M760,745 L745,720"/></g>
<use href="#b11" fill="none" stroke="#d2d2d2" stroke-width="4" stroke-linecap="round"/>
<g fill="url(#gH)"><circle cx="990" cy="325" r="8"/><circle cx="1060" cy="330" r="8"/><circle cx="915" cy="378" r="8"/><circle cx="1140" cy="355" r="8"/><circle cx="930" cy="495" r="8"/><circle cx="990" cy="495" r="8"/><circle cx="1150" cy="458" r="8"/><circle cx="1120" cy="500" r="8"/><circle cx="1060" cy="440" r="8"/><circle cx="820" cy="625" r="8"/><circle cx="1325" cy="595" r="8"/><circle cx="1280" cy="625" r="8"/><circle cx="1245" cy="550" r="8"/><circle cx="1240" cy="825" r="8"/><circle cx="1220" cy="790" r="8"/><circle cx="1060" cy="760" r="8"/><circle cx="745" cy="720" r="8"/></g>
<g fill="url(#gC)"><circle cx="965" cy="390" r="15"/><circle cx="1100" cy="385" r="15"/><circle cx="1025" cy="425" r="15"/><circle cx="968" cy="470" r="15"/><circle cx="1105" cy="458" r="15"/><circle cx="1035" cy="570" r="15"/><circle cx="990" cy="575" r="15"/><circle cx="910" cy="572" r="15"/><circle cx="870" cy="630" r="15"/><circle cx="865" cy="670" r="15"/><circle cx="935" cy="700" r="15"/><circle cx="998" cy="678" r="15"/><circle cx="935" cy="775" r="14"/><circle cx="810" cy="715" r="15"/><circle cx="760" cy="745" r="15"/><circle cx="700" cy="790" r="15"/><circle cx="680" cy="820" r="15"/><circle cx="730" cy="800" r="15"/><circle cx="790" cy="740" r="15"/><circle cx="1060" cy="715" r="15"/><circle cx="1110" cy="745" r="15"/><circle cx="1180" cy="790" r="15"/><circle cx="1200" cy="810" r="15"/><circle cx="1140" cy="785" r="15"/><circle cx="1080" cy="740" r="15"/></g>
<g fill="url(#gL)"><circle cx="1105" cy="580" r="14"/><circle cx="1165" cy="570" r="14"/><circle cx="1230" cy="575" r="14"/><circle cx="1270" cy="590" r="14"/><circle cx="1240" cy="615" r="14"/><circle cx="1170" cy="600" r="14"/></g>
<circle cx="1025" cy="352" r="14" fill="url(#gN)"/><circle cx="1035" cy="482" r="14" fill="url(#gN)"/><circle cx="935" cy="835" r="13" fill="url(#gNf)"/>
<circle cx="1010" cy="603" r="14" fill="url(#gO)"/><circle cx="880" cy="520" r="14" fill="url(#gO)"/>
<circle cx="605" cy="875" r="23" fill="url(#gBr)"/>
</g>
<path d="M1962,1598 L1962,1660" stroke="#44446a" stroke-width="2.5" stroke-dasharray="6,5" fill="none"/>
<text class="sm" x="1969" y="1635">1.94</text>

<!-- ===== P ===== -->
<g transform="matrix(0.3333 0 0 0.3922 1130 1860)">
<g fill="none" stroke="#8e8e8e" stroke-width="26" stroke-linecap="round"><path id="b12" d="M595,90 L640,265 M640,265 L770,270 L800,410 L720,540 L605,525 L560,390 Z M770,270 L825,180 M800,410 L900,410 M560,390 L480,380 M605,525 L540,605 M720,540 L760,680 L600,740 L490,650 L405,570 M760,680 L790,745 M760,680 L890,690 L935,830 L995,835 M890,690 L875,610 M890,690 L1015,650 M935,830 L925,965 L815,1025 L665,965 L580,885 L600,740 M925,965 L1030,1040 M580,885 L440,975 L375,945 L240,1045 L175,1160 L245,1180 L380,1090 L440,975 M375,945 L435,860 M175,1160 L80,1215 M245,1180 L180,1255 M380,1090 L410,1110 M240,1045 L215,1020 M815,1025 L830,1160 L745,1175 L770,1305 L870,1395 L950,1385 L940,1275 L830,1160 M745,1175 L670,1095 M770,1305 L710,1305 M870,1395 L880,1470 M950,1385 L1030,1440 M940,1275 L1000,1250"/></g>
<use href="#b12" fill="none" stroke="#d2d2d2" stroke-width="8" stroke-linecap="round"/>
<g fill="url(#gH)"><circle cx="825" cy="180" r="17"/><circle cx="900" cy="410" r="17"/><circle cx="480" cy="380" r="17"/><circle cx="540" cy="605" r="17"/><circle cx="790" cy="745" r="17"/><circle cx="875" cy="610" r="17"/><circle cx="1015" cy="650" r="17"/><circle cx="1030" cy="1040" r="17"/><circle cx="435" cy="860" r="17"/><circle cx="80" cy="1215" r="17"/><circle cx="180" cy="1255" r="17"/><circle cx="410" cy="1110" r="17"/><circle cx="215" cy="1020" r="17"/><circle cx="670" cy="1095" r="17"/><circle cx="710" cy="1305" r="17"/><circle cx="880" cy="1470" r="17"/><circle cx="1030" cy="1440" r="17"/><circle cx="1000" cy="1250" r="17"/></g>
<g fill="url(#gC)"><circle cx="640" cy="265" r="33"/><circle cx="770" cy="270" r="33"/><circle cx="800" cy="410" r="33"/><circle cx="720" cy="540" r="33"/><circle cx="605" cy="525" r="33"/><circle cx="560" cy="390" r="33"/><circle cx="760" cy="680" r="33"/><circle cx="600" cy="740" r="33"/><circle cx="490" cy="650" r="31"/><circle cx="890" cy="690" r="33"/><circle cx="935" cy="830" r="33"/><circle cx="925" cy="965" r="33"/><circle cx="815" cy="1025" r="33"/><circle cx="580" cy="885" r="33"/><circle cx="440" cy="975" r="33"/><circle cx="375" cy="945" r="33"/><circle cx="240" cy="1045" r="33"/><circle cx="175" cy="1160" r="33"/><circle cx="245" cy="1180" r="33"/><circle cx="380" cy="1090" r="33"/></g>
<g fill="url(#gL)"><circle cx="830" cy="1160" r="32"/><circle cx="745" cy="1175" r="32"/><circle cx="770" cy="1305" r="32"/><circle cx="870" cy="1395" r="32"/><circle cx="950" cy="1385" r="32"/><circle cx="940" cy="1275" r="32"/></g>
<circle cx="995" cy="835" r="31" fill="url(#gO)"/><circle cx="665" cy="965" r="31" fill="url(#gO)"/>
<circle cx="405" cy="570" r="30" fill="url(#gN)"/>
<circle cx="595" cy="90" r="47" fill="url(#gBrf)"/>
</g>

<!-- ===== DABCO structures (magenta) ===== -->
<!-- a: H-DABCO left -->
<use href="#dabco" transform="translate(125,771)"/>
<text class="dz" x="125" y="790" text-anchor="middle">N</text>
<text class="dz" x="125" y="904" text-anchor="middle">N</text>
<text class="hr" x="125" y="948" text-anchor="middle">H</text>
<circle cx="168" cy="900" r="17" fill="none" stroke="#f0f" stroke-width="3"/>
<path d="M157,900 L179,900 M168,889 L168,911" stroke="#f0f" stroke-width="3"/>
<!-- b: free DABCO near INT3-I -->
<use href="#dabco" transform="translate(694,652)"/>
<text class="dz" x="694" y="671" text-anchor="middle">N</text>
<text class="dz" x="694" y="785" text-anchor="middle">N</text>
<!-- c: H-DABCO bottom -->
<use href="#dabco" transform="translate(735,2205)"/>
<text class="dz" x="735" y="2224" text-anchor="middle">N</text>
<text class="dz" x="735" y="2338" text-anchor="middle">N</text>
<text class="hr" x="735" y="2176" text-anchor="middle">H</text>
<circle cx="781" cy="2186" r="17" fill="none" stroke="#f0f" stroke-width="3"/>
<path d="M770,2186 L792,2186 M781,2175 L781,2197" stroke="#f0f" stroke-width="3"/>
<!-- d: free DABCO bottom -->
<use href="#dabco" transform="translate(1045,2257)"/>
<text class="dz" x="1045" y="2276" text-anchor="middle">N</text>
<text class="dz" x="1045" y="2390" text-anchor="middle">N</text>
<!-- e: tilted DABCO right -->
<path d="M1788,2098 L1829,2098 L1858,2151 L1844,2185 M1756,2117 L1737,2151 L1763,2202 L1810,2202 M1773,2119 L1801,2188" fill="none" stroke="#f0f" stroke-width="4"/>
<text class="dz" x="1770" y="2117" text-anchor="middle" style="font-size:44px">N</text>
<text class="dz" x="1828" y="2221" text-anchor="middle" style="font-size:44px">N</text>

<!-- ===== Arrows ===== -->
<g fill="none" stroke="#000" stroke-width="4">
<path d="M779,433 Q931,356 1186,342" marker-end="url(#ak)"/>
<path d="M1780,570 Q1913,662 1993,825" marker-end="url(#ak)"/>
<path d="M2111,1291 Q2111,1448 2071,1556" marker-end="url(#ak)"/>
<path d="M1847,1932 Q1723,2064 1542,2139" marker-end="url(#ak)"/>
<path d="M1743,2029 Q1705,2066 1720,2135" marker-end="url(#ak)"/>
<path d="M241,1077 Q270,882 490,639" marker-end="url(#ak)"/>
<path d="M197,917 Q230,960 300,908" marker-end="url(#ak)"/>
<path d="M306,898 Q400,760 627,755" marker-end="url(#ak)"/>
<path d="M697,618 Q692,565 693,512" marker-end="url(#ak)"/>
<path d="M1345,771 L1345,874" marker-end="url(#ak)"/>
<path d="M1465,1196 Q1473,1254 1414,1296" marker-end="url(#ak)"/>
<path d="M741,1451 L421,1451" marker-end="url(#ak)"/>
<path d="M265,1517 Q301,1716 417,1834" marker-end="url(#ak)"/>
<path d="M700,2088 Q913,2206 1117,2221" marker-end="url(#ak)"/>
<path d="M796,2212 Q826,2172 891,2176" marker-end="url(#ak)"/>
<path d="M911,2180 Q964,2196 988,2270" marker-end="url(#ak)"/>
</g>
<path d="M958,1281 Q803,1320 741,1448" fill="none" stroke="#f00" stroke-width="4" marker-end="url(#ar)"/>
<path d="M958,1619 Q818,1580 741,1454" fill="none" stroke="#1010e8" stroke-width="4" marker-end="url(#ab)"/>

<!-- ===== Labels ===== -->
<text class="lb" x="502" y="615" text-anchor="middle">INT3-I</text>
<text class="lb" x="1078" y="832" text-anchor="middle">R1</text>
<text class="lb" x="1519" y="580" text-anchor="middle">INT4-I</text>
<text class="lb" x="1585" y="734">Cat</text>
<text class="lb" x="1532" y="1182" text-anchor="middle">COM1</text>
<text class="lb" x="2103" y="1255" text-anchor="middle">INT5-I</text>
<text class="lb" x="1263" y="1515" text-anchor="middle">INT1</text>
<text class="lb" x="1292" y="1808" text-anchor="middle">R2</text>
<text class="lb" x="2010" y="2013" text-anchor="middle">INT6-I</text>
<text class="lb" x="1331" y="2440" text-anchor="middle">P</text>
<text class="lb" x="287" y="1468" text-anchor="middle">INT2</text>
<text class="lb" x="537" y="2216" text-anchor="middle">INT3-II</text>
<text class="lb" transform="translate(1917,655) rotate(50)" text-anchor="middle" dy="0.35em" style="font-size:52px">1,7 H-Shift</text>
</svg>
</body></html>
